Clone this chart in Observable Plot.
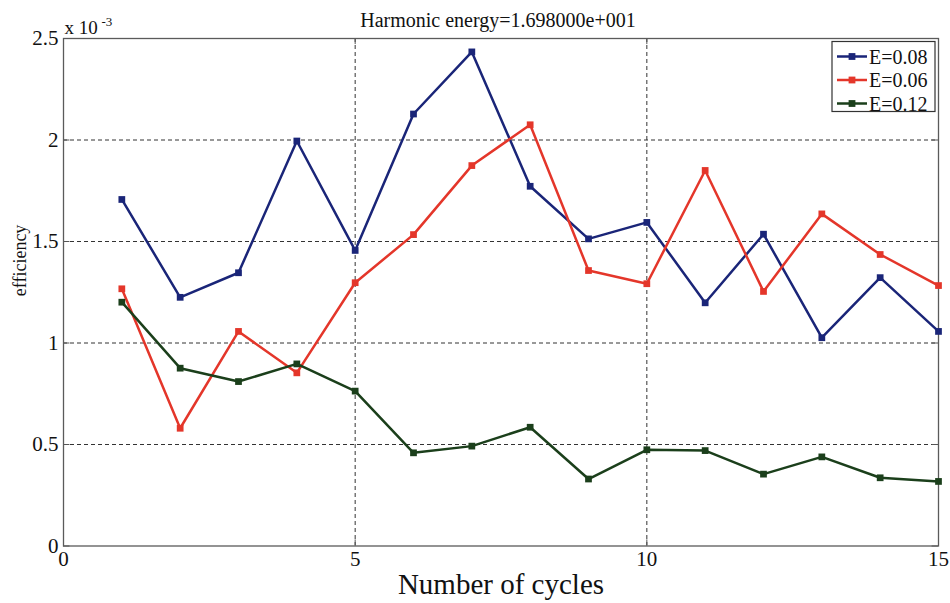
<!DOCTYPE html>
<html>
<head>
<meta charset="utf-8">
<script src="https://cdn.jsdelivr.net/npm/d3@7"></script>
<script src="https://cdn.jsdelivr.net/npm/@observablehq/plot@0.6"></script>
<style>
  body { margin: 0; background: #fff; }
  svg { display: block; }
  svg text { font-family: "Liberation Serif", "Times New Roman", Times, serif; }
</style>
</head>
<body>
<div id="chart"></div>
<script>
// Cycle numbers on the x axis
const cycles = [1, 2, 3, 4, 5, 6, 7, 8, 9, 10, 11, 12, 13, 14, 15];

// Efficiency per cycle, in units of 10^-3
const effE008 = [1.707, 1.225, 1.346, 1.995, 1.456, 2.128, 2.434, 1.772, 1.513, 1.594, 1.198, 1.536, 1.026, 1.322, 1.057];
const effE006 = [1.267, 0.580, 1.057, 0.853, 1.297, 1.534, 1.874, 2.075, 1.357, 1.292, 1.850, 1.254, 1.636, 1.436, 1.283];
const effE012 = [1.201, 0.876, 0.810, 0.897, 0.763, 0.459, 0.492, 0.585, 0.330, 0.474, 0.470, 0.354, 0.439, 0.336, 0.318];

const seriesNames = ["E=0.08", "E=0.06", "E=0.12"];
const seriesColors = ["#1a2578", "#e4362a", "#1b3f1b"];

const xTicks = [0, 5, 10, 15];
const yTicks = [0, 0.5, 1, 1.5, 2, 2.5];

const titleText = "Harmonic energy=1.698000e+001";
const xLabel = "Number of cycles";
const yLabel = "efficiency";
const yMultiplier = "x 10";
const yExponent = "-3";

const seriesValues = [effE008, effE006, effE012];
const rows = seriesNames.flatMap((name, i) =>
  cycles.map((c, j) => ({ cycle: c, eff: seriesValues[i][j], series: name }))
);

const serif = '"Liberation Serif", "Times New Roman", Times, serif';
const grid = { stroke: "#333", strokeDasharray: "4,3", strokeWidth: 1 };
const tickStyle = { stroke: "#555", strokeWidth: 1 };
const ink = "#111";

const chart = Plot.plot({
  width: 950,
  height: 603,
  marginLeft: 63,
  marginRight: 12,
  marginTop: 38,
  marginBottom: 57.5,
  style: { fontFamily: serif, background: "#fff", color: ink },
  x: { domain: [0, 15] },
  y: { domain: [0, 2.5] },
  color: { domain: seriesNames, range: seriesColors },
  marks: [
    // dashed grid
    Plot.ruleX(xTicks.slice(1, -1), { ...grid }),
    Plot.ruleY(yTicks.slice(1, -1), { ...grid }),
    // inward tick marks on all four sides
    Plot.ruleY(yTicks, { x1: 0, x2: 0.11, ...tickStyle }),
    Plot.ruleY(yTicks, { x1: 14.89, x2: 15, ...tickStyle }),
    Plot.ruleX(xTicks, { y1: 0, y2: 0.03, ...tickStyle }),
    Plot.ruleX(xTicks, { y1: 2.47, y2: 2.5, ...tickStyle }),
    Plot.frame({ stroke: "#5a5a5a", strokeWidth: 1.3 }),
    Plot.axisX({ ticks: xTicks, tickSize: 0, tickPadding: 5, fontSize: 21, fontFamily: serif, tickFormat: (d) => String(d), label: null }),
    Plot.axisY({ ticks: yTicks, tickSize: 0, tickPadding: 5, fontSize: 21, fontFamily: serif, tickFormat: (d) => String(d), label: null }),
    // series: line then square markers, in legend order
    ...seriesNames.flatMap((name) => [
      Plot.line(rows, { filter: (d) => d.series === name, x: "cycle", y: "eff", stroke: "series", strokeWidth: 2.5 }),
      Plot.dot(rows, { filter: (d) => d.series === name, x: "cycle", y: "eff", fill: "series", symbol: "square", r: 3.8, stroke: "none" })
    ]),
    // title, exponent note and axis labels
    Plot.text([titleText], { frameAnchor: "top", lineAnchor: "bottom", dy: -12, dx: -3, fontSize: 20, fontFamily: serif, fill: ink }),
    Plot.text([yMultiplier], { frameAnchor: "top-left", textAnchor: "start", lineAnchor: "bottom", dy: -5, dx: 1, fontSize: 19, fontFamily: serif, fill: ink }),
    Plot.text([yExponent], { frameAnchor: "top-left", textAnchor: "start", lineAnchor: "bottom", dy: -13, dx: 38, fontSize: 13, fontFamily: serif, fill: ink }),
    Plot.text([xLabel], { frameAnchor: "bottom", lineAnchor: "bottom", dy: 47.5, fontSize: 29, fontFamily: serif, fill: ink }),
    Plot.text([yLabel], { frameAnchor: "left", rotate: -90, dx: -43, dy: 4, fontSize: 18, fontFamily: serif, fill: ink })
  ]
});

// Legend box in the top-right corner of the axes
const sx = chart.scale("x"), sy = chart.scale("y");
const legendRight = sx.apply(15) - 3;
const legendTop = sy.apply(2.5) + 3.5;
const boxW = 103, boxH = 70, rowH = 23.5;
const svg = d3.select(chart);
const lg = svg.append("g")
  .attr("font-family", serif)
  .attr("font-size", 20)
  .attr("text-anchor", "start");
lg.append("rect")
  .attr("x", legendRight - boxW).attr("y", legendTop)
  .attr("width", boxW).attr("height", boxH)
  .attr("fill", "#fff").attr("stroke", "#333").attr("stroke-width", 1.2);
seriesNames.forEach((name, i) => {
  const cy = legendTop + 15 + i * rowH;
  const x0 = legendRight - boxW + 5;
  lg.append("line")
    .attr("x1", x0).attr("x2", x0 + 30).attr("y1", cy).attr("y2", cy)
    .attr("stroke", seriesColors[i]).attr("stroke-width", 2.5);
  lg.append("rect")
    .attr("x", x0 + 15 - 3.4).attr("y", cy - 3.4).attr("width", 6.8).attr("height", 6.8)
    .attr("fill", seriesColors[i]);
  lg.append("text")
    .attr("x", x0 + 32).attr("y", cy + 7)
    .attr("fill", ink)
    .text(name);
});

document.getElementById("chart").appendChild(chart);
</script>
</body>
</html>
